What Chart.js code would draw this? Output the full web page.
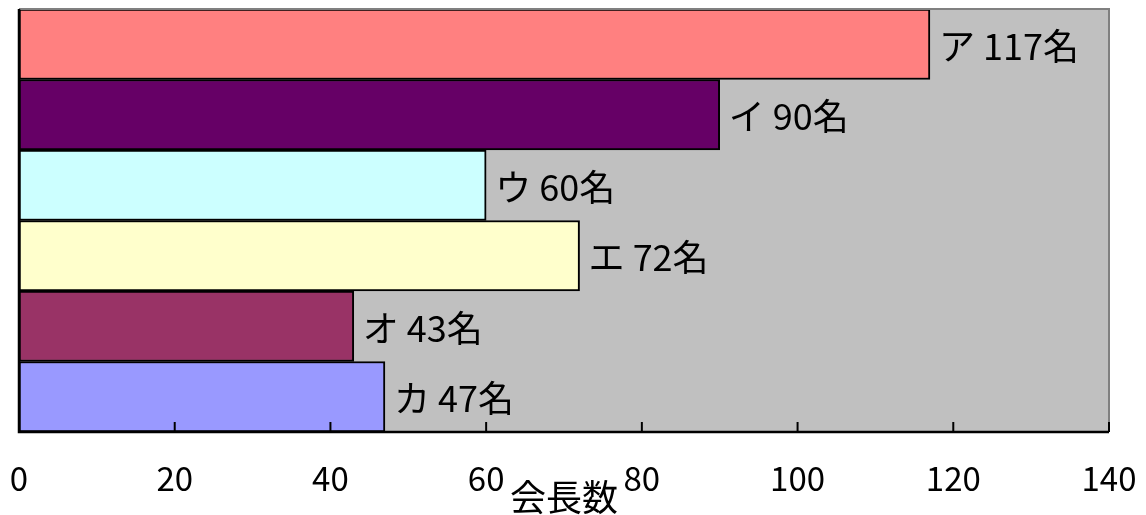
<!DOCTYPE html>
<html>
<head>
<meta charset="utf-8">
<script src="https://cdn.jsdelivr.net/npm/chart.js@4/dist/chart.umd.min.js"></script>
<style>
html,body{margin:0;padding:0;background:#fff;}
#wrap{width:1146px;height:515px;position:relative;}
</style>
</head>
<body>
<div id="wrap"><canvas id="c"></canvas></div>
<script>
const categories = ['ア','イ','ウ','エ','オ','カ'];
const values = [117, 90, 60, 72, 43, 47];
const barColors = ['#FF8080','#660066','#CCFFFF','#FFFFCC','#993366','#9999FF'];
const unit = '名';
const axisTitle = '会長数';
const xMin = 0, xMax = 140, xStep = 20;

const FONT = '"Noto Sans CJK JP", "Noto Sans", sans-serif';

const plotDecor = {
  id: 'plotDecor',
  beforeDatasetsDraw(chart) {
    const {ctx, chartArea: a} = chart;
    ctx.save();
    ctx.fillStyle = '#C0C0C0';
    ctx.fillRect(a.left, a.top, a.right - a.left, a.bottom - a.top);
    ctx.restore();
  },
  afterDatasetsDraw(chart) {
    const {ctx, chartArea: a, scales} = chart;
    const x = scales.x;
    ctx.save();
    ctx.strokeStyle = '#808080';
    ctx.lineWidth = 2;
    ctx.beginPath();
    ctx.moveTo(a.left, a.top);
    ctx.lineTo(a.right, a.top);
    ctx.lineTo(a.right, a.bottom);
    ctx.stroke();
    ctx.strokeStyle = '#000';
    ctx.lineWidth = 2.5;
    ctx.beginPath();
    ctx.moveTo(a.left, a.top);
    ctx.lineTo(a.left, a.bottom);
    ctx.lineTo(a.right, a.bottom);
    ctx.stroke();
    ctx.lineWidth = 2;
    x.ticks.forEach(t => {
      const px = x.getPixelForValue(t.value);
      ctx.beginPath();
      ctx.moveTo(px, a.bottom);
      ctx.lineTo(px, a.bottom - 10);
      ctx.stroke();
    });
    ctx.fillStyle = '#000';
    ctx.font = '36px ' + FONT;
    ctx.textAlign = 'left';
    ctx.textBaseline = 'middle';
    const meta = chart.getDatasetMeta(0);
    meta.data.forEach((bar, i) => {
      ctx.fillText(categories[i] + ' ' + values[i] + unit, bar.x + 9, bar.y + 2);
    });
    ctx.restore();
  }
};

new Chart(document.getElementById('c'), {
  type: 'bar',
  data: {
    labels: categories,
    datasets: [{
      data: values,
      backgroundColor: barColors,
      borderColor: '#000',
      borderWidth: 2,
      borderSkipped: false,
      categoryPercentage: 1.0,
      barPercentage: 1.0
    }]
  },
  options: {
    indexAxis: 'y',
    responsive: true,
    maintainAspectRatio: false,
    animation: false,
    layout: { padding: { top: 9, left: 19, right: 37, bottom: 0 } },
    plugins: {
      legend: { display: false },
      tooltip: { enabled: false }
    },
    scales: {
      y: { display: false },
      x: {
        min: xMin,
        max: xMax,
        afterFit(scale) {
          scale.height = 83;
          scale.paddingLeft = 0;
          scale.paddingRight = 0;
        },
        ticks: {
          stepSize: xStep,
          color: '#000',
          padding: 27,
          maxRotation: 0,
          font: { family: FONT, size: 33 }
        },
        grid: { display: false, drawTicks: false },
        border: { display: false },
        title: {
          display: true,
          text: axisTitle,
          color: '#000',
          font: { family: FONT, size: 36, lineHeight: 1.0 },
          padding: { top: 0, bottom: 0 }
        }
      }
    }
  },
  plugins: [plotDecor]
});
</script>
</body>
</html>
